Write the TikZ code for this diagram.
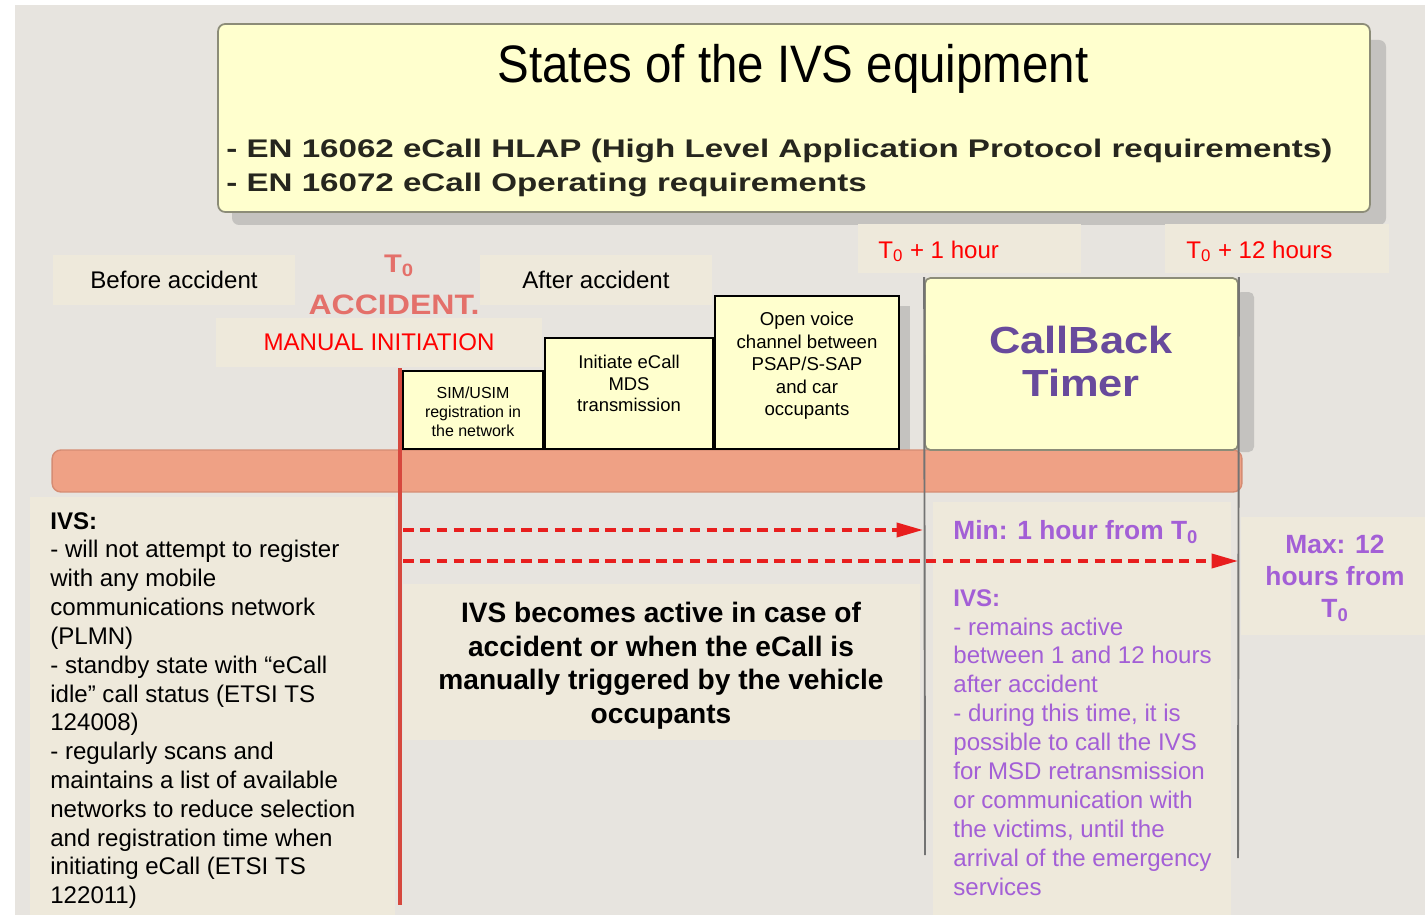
\documentclass[tikz,border=0pt]{standalone}
\usepackage{fontspec}
\setmainfont{Liberation Sans}
\newfontfamily\narrowfont[FakeStretch=0.9]{Liberation Sans}
\newfontfamily\stdfont[FakeStretch=1.3]{Liberation Sans}
\newfontfamily\accfont[FakeStretch=1.14]{Liberation Sans}
\newfontfamily\timerfont[FakeStretch=1.15]{Liberation Sans}
\usetikzlibrary{arrows.meta}

\definecolor{pagebg}{RGB}{231,228,223}
\definecolor{labelbg}{RGB}{238,233,219}
\definecolor{boxyellow}{RGB}{255,255,206}
\definecolor{barsalmon}{RGB}{239,161,133}
\definecolor{barline}{RGB}{214,140,115}
\definecolor{accline}{RGB}{214,72,62}
\definecolor{acctext}{RGB}{228,112,106}
\definecolor{arrred}{RGB}{232,30,30}
\definecolor{timerpurple}{RGB}{104,74,156}
\definecolor{notepurple}{RGB}{163,95,214}
\definecolor{headgray}{RGB}{38,38,30}
\definecolor{framegray}{RGB}{140,140,120}
\definecolor{shadowgray}{RGB}{196,194,191}
\definecolor{lifegray}{RGB}{115,115,115}

\newcommand{\Tnull}{T\textsubscript{0}}
\newcommand{\fsz}[2]{\fontsize{#1}{#2}\selectfont}

\tikzset{
  labelbox/.style={fill=labelbg, inner sep=0pt, font=\fsz{13.7}{16.4}},
  panel/.style={fill=labelbg, inner sep=0pt},
  stepbox/.style={draw=black, line width=1.1pt, fill=boxyellow, inner sep=0pt},
  steptext/.style={anchor=north, align=center, inner sep=0pt},
  lifeline/.style={lifegray, line width=1.1pt},
  dasharrow/.style={arrred, line width=2pt, dash pattern=on 6pt off 3.6pt,
    -{Triangle[length=15pt,width=8pt]}},
}

\begin{document}
\begin{tikzpicture}[x=0.02cm, y=-0.02cm]
\useasboundingbox (0,0) rectangle (1425,915);
% Background
\fill[white] (0,0) rectangle (1425,915);
\fill[pagebg] (15,5) rectangle (1425,915);

% Heading
\fill[shadowgray, rounded corners=4pt] (232,40) rectangle (1386,225);
\node[draw=framegray, line width=1pt, fill=boxyellow, rounded corners=4pt,
      minimum width=23.04cm, minimum height=3.76cm] (heading) at (794,118) {};
\node[anchor=base, inner sep=0pt, font=\narrowfont\fsz{30}{34}] (headtitle) at (793,83) {States of the IVS equipment};
\node[anchor=base west, inner sep=0pt, text=headgray, font=\stdfont\bfseries\fsz{14.5}{18}] (std1) at (226,158)
  {- EN 16062 eCall HLAP (High Level Application Protocol requirements)};
\node[anchor=base west, inner sep=0pt, text=headgray, font=\stdfont\bfseries\fsz{14.5}{18}] (std2) at (226,192)
  {- EN 16072 eCall Operating requirements};

% Phase labels
\node[labelbox, minimum width=4.84cm, minimum height=1cm] (before) at (174,280) {Before accident};
\node[labelbox, minimum width=4.64cm, minimum height=1cm] (after) at (596,280) {After accident};
\node[labelbox, text=red, minimum width=6.52cm, minimum height=0.98cm] (manual) at (379,342.5) {MANUAL INITIATION};
\node[labelbox, minimum width=4.46cm, minimum height=0.98cm] (onehourbox) at (969.5,248.5) {};
\node[labelbox, minimum width=4.48cm, minimum height=0.98cm] (twelvebox) at (1277,248.5) {};
\node[anchor=base west, inner sep=0pt, text=red, font=\fsz{13.7}{16.4}] (onehour) at (878,258) {\Tnull{} + 1 hour};
\node[anchor=base west, inner sep=0pt, text=red, font=\fsz{13.7}{16.4}] (twelvehours) at (1186,258) {\Tnull{} + 12 hours};
\node[anchor=base, inner sep=0pt, text=acctext, font=\accfont\bfseries\fsz{14.5}{18}] (tzero) at (399,273) {\Tnull};
\node[anchor=base, inner sep=0pt, text=acctext, font=\accfont\bfseries\fsz{16}{18}] (accident) at (394,315) {ACCIDENT.};

% Timer shadow and bar
\fill[shadowgray, rounded corners=3pt] (1236,292) rectangle (1254,452);
\fill[shadowgray] (897,306) rectangle (910,451);
\node[fill=barsalmon, draw=barline, line width=0.8pt, rounded corners=5pt,
      minimum width=23.8cm, minimum height=0.84cm] (bar) at (647,471) {};

% Text panels
\node[panel, minimum width=7.3cm, minimum height=8.36cm] (idlepanel) at (212.5,706) {};
\node[panel, minimum width=10.34cm, minimum height=3.12cm] (activepanel) at (661.5,662) {};
\node[panel, minimum width=5.96cm, minimum height=8.26cm] (callbackpanel) at (1082,708.5) {};
\node[panel, minimum width=3.68cm, minimum height=2.36cm] (maxpanel) at (1333,576) {};

\node[anchor=north west, align=left, inner sep=0pt, font=\fsz{13.7}{16.4}] (idletext) at (50,512)
  {\textbf{IVS:}\\- will not attempt to register\\with any mobile\\communications network\\(PLMN)\\- standby state with “eCall\\idle” call status (ETSI TS\\124008)\\- regularly scans and\\maintains a list of available\\networks to reduce selection\\and registration time when\\initiating eCall (ETSI TS\\122011)};
\node[anchor=north, align=center, inner sep=0pt, font=\bfseries\fsz{16}{19.1}] (activetext) at (661,602)
  {IVS becomes active in case of\\accident or when the eCall is\\manually triggered by the vehicle\\occupants};
\node[anchor=base west, inner sep=0pt, text=notepurple, font=\bfseries\fsz{15}{18}] (mintext) at (953,539) {Min: 1 hour from \Tnull};
\node[anchor=north west, align=left, inner sep=0pt, text=notepurple, font=\fsz{13.7}{16.45}] (callbacktext) at (953,589)
  {\textbf{IVS:}\\- remains active\\between 1 and 12 hours\\after accident\\- during this time, it is\\possible to call the IVS\\for MSD retransmission\\or communication with\\the victims, until the\\arrival of the emergency\\services};
\node[anchor=north, align=center, inner sep=0pt, text=notepurple, font=\bfseries\fsz{15}{18.2}] (maxtext) at (1335,535)
  {Max: 12\\hours from\\\Tnull};

% Timer box
\node[draw=framegray, line width=1pt, fill=boxyellow, rounded corners=3pt,
      minimum width=6.26cm, minimum height=3.44cm] (timer) at (1081.5,364) {};
\node[anchor=north, align=center, inner sep=0pt, text=timerpurple, font=\timerfont\bfseries\fsz{21.5}{24.5}] (timertext) at (1081,326)
  {CallBack\\Timer};

% Time lines
\coordinate (acctop) at (400,368);
\coordinate (accbot) at (400,905);
\coordinate (minfoot) at (925,855);
\coordinate (maxfoot) at (1238,858);
\draw[accline, line width=2.3pt] (acctop) -- (accbot);
\draw[lifeline] (timer.north west) -- (minfoot);
\draw[lifeline] (timer.north east) -- (maxfoot);

% Arrows
\coordinate (minstart) at (403,530);
\coordinate (minend) at (923,530);
\coordinate (maxstart) at (403,561);
\coordinate (maxend) at (1238,561);
\draw[dasharrow] (minstart) -- (minend);
\draw[dasharrow] (maxstart) -- (maxend);

% Steps
\node[stepbox, minimum width=2.8cm, minimum height=1.56cm] (simreg) at (473,410) {};
\node[steptext, font=\fsz{9.1}{10.8}] (simtext) at (473,387) {SIM/USIM\\registration in\\the network};
\node[stepbox, minimum width=3.36cm, minimum height=2.22cm] (initiate) at (629,393.5) {};
\node[steptext, font=\fsz{10.5}{12.2}] (initiatetext) at (629,355) {Initiate eCall\\MDS\\transmission};
\node[stepbox, minimum width=3.68cm, minimum height=3.06cm] (voice) at (807,372.5) {};
\node[steptext, font=\fsz{10.6}{12.8}] (voicetext) at (807,312) {Open voice\\channel between\\PSAP/S-SAP\\and car\\occupants};
\end{tikzpicture}
\end{document}
